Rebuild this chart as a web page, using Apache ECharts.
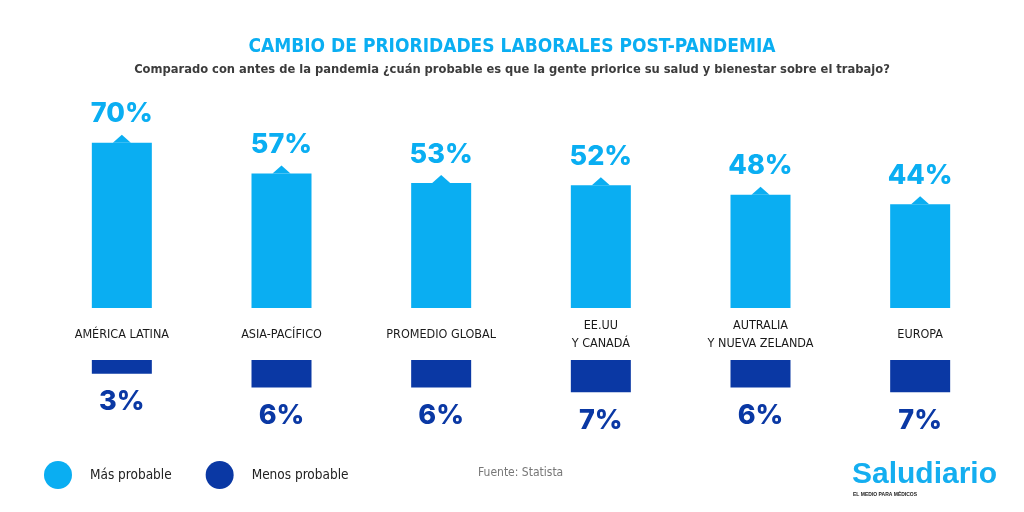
<!DOCTYPE html>
<html>
<head>
<meta charset="utf-8">
<script src="https://cdn.jsdelivr.net/npm/echarts@6/dist/echarts.min.js"></script>
<style>html,body{margin:0;padding:0;background:#fff}#c{width:1024px;height:512px}</style>
</head>
<body>
<div id="c"></div>
<script>
const titleText = 'CAMBIO DE PRIORIDADES LABORALES POST-PANDEMIA';
const subtitleText = 'Comparado con antes de la pandemia ¿cuán probable es que la gente priorice su salud y bienestar sobre el trabajo?';
const categories = ['AMÉRICA LATINA', 'ASIA-PACÍFICO', 'PROMEDIO GLOBAL', 'EE.UU\nY CANADÁ', 'AUTRALIA\nY NUEVA ZELANDA', 'EUROPA'];
const masProbable = [70, 57, 53, 52, 48, 44];
const menosProbable = [3, 6, 6, 7, 6, 7];
const seriesNames = ['Más probable', 'Menos probable'];
const sourceText = 'Fuente: Statista';

const LIGHT = '#0aaef2';
const DARK = '#0a38a4';
const COND = "'DejaVu Sans Condensed', 'Liberation Sans Narrow', sans-serif";
const NUM = "Inter, Lato, sans-serif";

const chart = echarts.init(document.getElementById('c'));
chart.setOption({
  backgroundColor: '#fff',
  animation: false,
  title: [
    { text: titleText, left: 'center', top: 33,
      textStyle: { color: LIGHT, fontFamily: COND, fontWeight: 'bold', fontSize: 19 } },
    { text: subtitleText, left: 'center', top: 58,
      textStyle: { color: '#3c3c3c', fontFamily: COND, fontWeight: 'bold', fontSize: 12.8 } }
  ],
  legend: {
    data: seriesNames,
    left: 39, top: 456,
    icon: 'circle', itemWidth: 28, itemHeight: 28, itemGap: 34,
    textStyle: { color: '#222', fontFamily: COND, fontSize: 13.5, padding: [0, 0, 0, 13] }
  },
  grid: [
    { left: 42, right: 24, top: 72, height: 236 },
    { left: 42, right: 24, top: 360, height: 46 }
  ],
  xAxis: [
    { type: 'category', gridIndex: 0, data: categories,
      axisLine: { show: false }, axisTick: { show: false },
      axisLabel: { margin: 27, verticalAlign: 'middle', lineHeight: 18, color: '#1a1a1a',
        fontFamily: COND, fontSize: 12.5, interval: 0 } },
    { type: 'category', gridIndex: 1, data: categories, show: false }
  ],
  yAxis: [
    { type: 'value', gridIndex: 0, min: 0, max: 100, show: false, splitLine: { show: false } },
    { type: 'value', gridIndex: 1, min: 0, max: 10, inverse: true, show: false, splitLine: { show: false } }
  ],
  series: [
    { name: seriesNames[0], type: 'bar', xAxisIndex: 0, yAxisIndex: 0, data: masProbable,
      barWidth: 60, itemStyle: { color: LIGHT },
      label: { show: true, position: 'top', distance: 15, formatter: '{c}%', color: LIGHT,
        fontFamily: NUM, fontWeight: 800, fontSize: 27 } },
    { name: 'pointer', type: 'scatter', xAxisIndex: 0, yAxisIndex: 0, data: masProbable,
      symbol: 'triangle', symbolSize: [18, 8], symbolOffset: [0, -4],
      itemStyle: { color: LIGHT, opacity: 1 }, silent: true, z: 3 },
    { name: seriesNames[1], type: 'bar', xAxisIndex: 1, yAxisIndex: 1, data: menosProbable,
      barWidth: 60, itemStyle: { color: DARK },
      label: { show: true, position: 'bottom', distance: 15, formatter: '{c}%', color: DARK,
        fontFamily: NUM, fontWeight: 800, fontSize: 27 } }
  ],
  graphic: [
    { type: 'text', left: 478, top: 467,
      style: { text: sourceText, fill: '#777', font: "12px " + COND } },
    { type: 'text', left: 852, top: 460,
      style: { text: 'Saludiario', fill: '#14aef0', font: "bold 30px 'Liberation Sans', Arial, sans-serif" } },
    { type: 'text', left: 853, top: 492,
      style: { text: 'EL MEDIO PARA MÉDICOS', fill: '#222', font: "bold 5px 'Liberation Sans', sans-serif" } }
  ]
});
</script>
</body>
</html>
